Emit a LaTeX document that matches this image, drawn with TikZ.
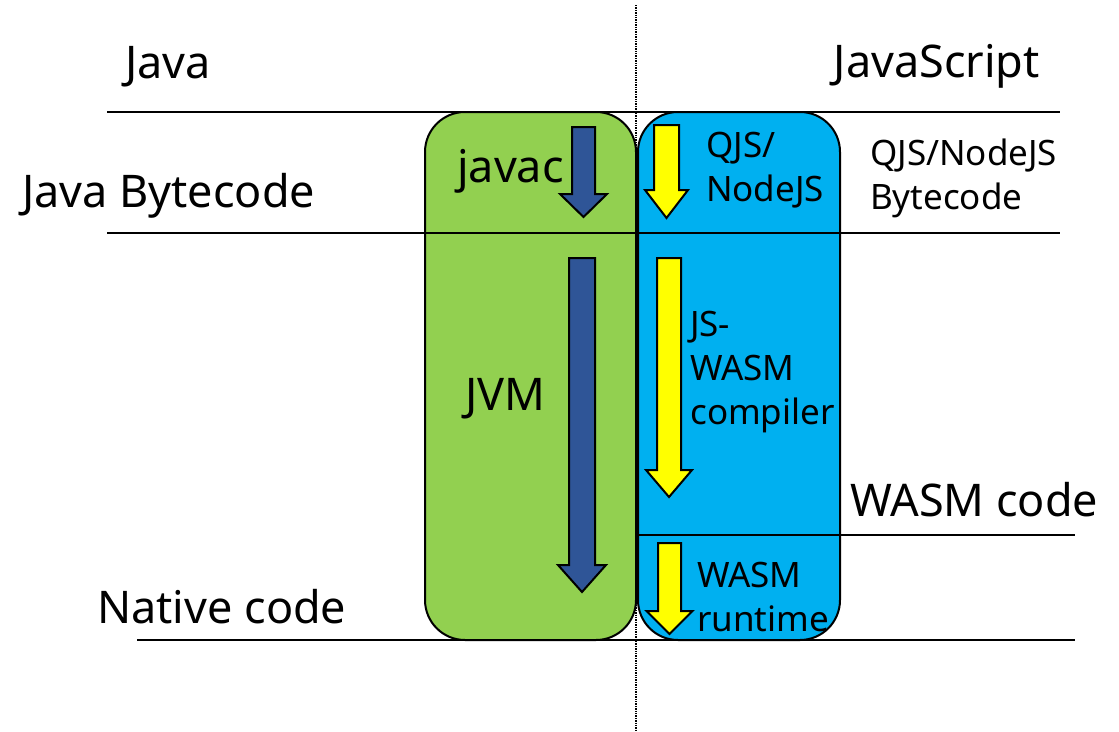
\documentclass[tikz,border=0pt]{standalone}
\usepackage{fontspec}
\setmainfont{Noto Sans}

\definecolor{jgreen}{HTML}{92D050}
\definecolor{jsblue}{HTML}{00B0F0}
\definecolor{darrow}{HTML}{2F5597}
\definecolor{yarrow}{HTML}{FFFF00}

% block arrow pointing down: style, x, top, bottom, shaft half, head half, head length
\newcommand{\blockarrow}[7]{%
  \filldraw[#1] ({#2-#5},#3) -- ({#2+#5},#3) -- ({#2+#5},{#4-#7}) -- ({#2+#6},{#4-#7})
    -- (#2,#4) -- ({#2-#6},{#4-#7}) -- ({#2-#5},{#4-#7}) -- cycle;}

\tikzset{
  layer/.style={line width=1.6pt},
  stage/.style={draw=black, line width=2pt, rounded corners=40pt, inner sep=0pt},
  big/.style={font=\fontsize{45}{56}\selectfont, inner sep=0pt},
  small/.style={font=\fontsize{35}{44}\selectfont, inner sep=0pt, align=left},
}

\begin{document}
\begin{tikzpicture}[x=1pt,y=-1pt]
\useasboundingbox (0,0) rectangle (1119,731);

\draw[densely dotted, line width=1.4pt] (636,5) -- (636,731);

\node[stage, fill=jgreen, minimum width=211, minimum height=528] (jvmbox) at (530.5,376) {};
\node[stage, fill=jsblue, minimum width=202, minimum height=528] (jsbox) at (739,376) {};

\draw[layer] (107,112) -- (1060,112);
\draw[layer] (107,233) -- (1060,233);
\draw[layer] (638,535) -- (1075,535);
\draw[layer] (137,640) -- (1075,640);

\blockarrow{fill=darrow, draw=black, line width=2pt}{583.5}{127}{217}{11.5}{23.5}{23}
\blockarrow{fill=darrow, draw=black, line width=2pt}{582}{258}{592}{13}{24}{27}
\blockarrow{fill=yarrow, draw=black, line width=2pt}{666.5}{125}{218}{12.5}{21.5}{28}
\blockarrow{fill=yarrow, draw=black, line width=2pt}{669}{258}{497}{12}{23}{27}
\blockarrow{fill=yarrow, draw=black, line width=2pt}{669.5}{543}{634}{11.5}{23}{23}

\node[big, anchor=base west] (java) at (125,78) {Java};
\node[big, anchor=base east] (js) at (1040,77) {JavaScript};
\node[big, anchor=base west] (jbc) at (22,207) {Java Bytecode};
\node[big, anchor=base west] (javac) at (457,182) {javac};
\node[big, anchor=base west] (jvm) at (465,410) {JVM};
\node[big, anchor=base west] (wasmcode) at (850,516) {WASM code};
\node[big, anchor=base west] (native) at (97,623) {Native code};

\node[small, anchor=west] (qjs) at (706,170) {QJS/\\NodeJS};
\node[small, anchor=west] (qjsbc) at (870,178) {QJS/NodeJS\\Bytecode};
\node[small, anchor=west] (jscomp) at (690,372) {JS-\\WASM\\compiler};
\node[small, anchor=west] (wasmrt) at (697,597) {WASM\\runtime};
\end{tikzpicture}
\end{document}
